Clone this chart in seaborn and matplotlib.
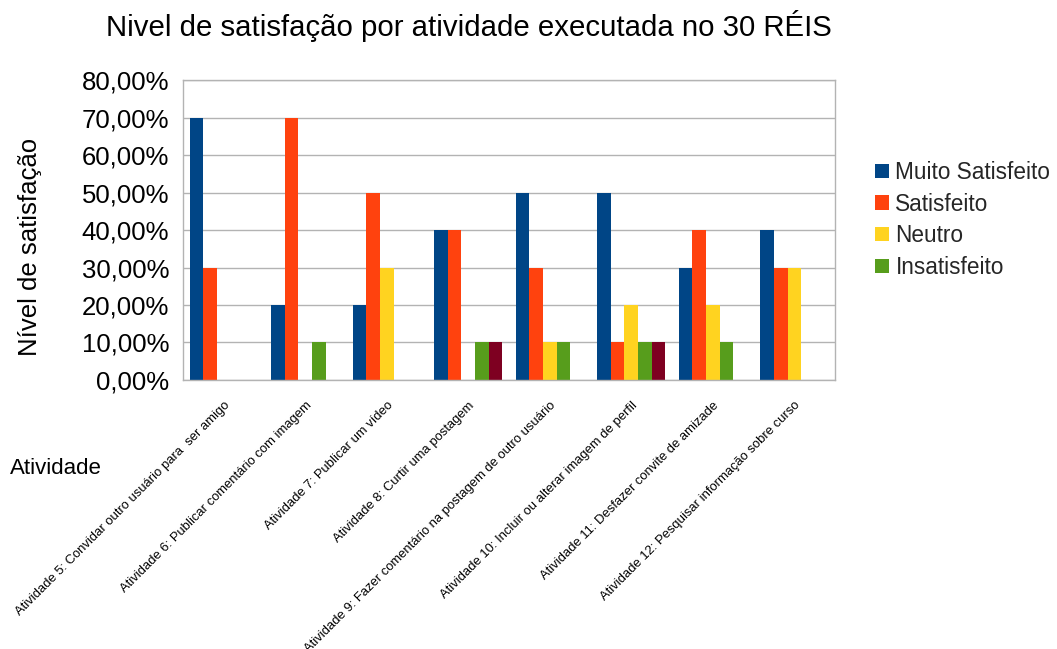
import numpy as np
import pandas as pd
import matplotlib
matplotlib.use("Agg")
import matplotlib.pyplot as plt
from matplotlib.patches import Patch
from matplotlib.ticker import FuncFormatter
import seaborn as sns

atividades = [
    "Atividade 5: Convidar outro usuário para  ser amigo",
    "Atividade 6: Publicar comentário com imagem",
    "Atividade 7: Publicar um vídeo",
    "Atividade 8: Curtir uma postagem",
    "Atividade 9: Fazer comentário na postagem de outro usuário",
    "Atividade 10: Incluir ou alterar imagem de perfil",
    "Atividade 11: Desfazer convite de amizade",
    "Atividade 12: Pesquisar informação sobre curso",
]
muito_satisfeito = [0.70, 0.20, 0.20, 0.40, 0.50, 0.50, 0.30, 0.40]
satisfeito = [0.30, 0.70, 0.50, 0.40, 0.30, 0.10, 0.40, 0.30]
neutro = [0.00, 0.00, 0.30, 0.00, 0.10, 0.20, 0.20, 0.30]
insatisfeito = [0.00, 0.10, 0.00, 0.10, 0.10, 0.10, 0.10, 0.00]
muito_insatisfeito = [0.00, 0.00, 0.00, 0.10, 0.00, 0.10, 0.00, 0.00]

series_names = ["Muito Satisfeito", "Satisfeito", "Neutro", "Insatisfeito", "Muito Insatisfeito"]
series_values = [muito_satisfeito, satisfeito, neutro, insatisfeito, muito_insatisfeito]
colors = ["#004586", "#ff420e", "#ffd320", "#579d1c", "#7e0021"]

rows = []
for name, vals in zip(series_names, series_values):
    for cat, v in zip(atividades, vals):
        rows.append({"Atividade": cat, "Série": name, "Valor": v})
df = pd.DataFrame(rows)

sns.set_theme(style="white")
plt.rcParams["font.family"] = ["Liberation Sans", "DejaVu Sans"]

fig = plt.figure(figsize=(10.57, 6.49), dpi=100)
ax = fig.add_axes([0.1731, 0.4145, 0.6169, 0.4622])

sns.barplot(data=df, x="Atividade", y="Valor", hue="Série", order=atividades,
            hue_order=series_names, palette=colors, width=0.83,
            linewidth=0, edgecolor="none", saturation=1, legend=False, ax=ax)

ax.set_xlim(-0.5, len(atividades) - 0.5)
ax.set_ylim(0, 0.8)
ax.set_yticks(np.arange(0, 0.81, 0.1))
ax.yaxis.set_major_formatter(FuncFormatter(lambda v, p: f"{v*100:.2f}%".replace(".", ",")))
ax.yaxis.grid(True, color="#b3b3b3", linewidth=1)
ax.set_axisbelow(True)
for sp in ax.spines.values():
    sp.set_color("#b3b3b3")
    sp.set_linewidth(1)

ax.set_xticks(np.arange(-0.5, len(atividades)), minor=True)
ax.tick_params(axis="x", which="minor", length=8, color="#b3b3b3", width=1)
ax.tick_params(axis="x", which="major", length=0, pad=14)
ax.tick_params(axis="y", which="major", length=4, color="#b3b3b3", width=1,
               labelsize=18.5, pad=6, labelcolor="#000000")
ax.set_xticks(range(len(atividades)))
ax.set_xticklabels(atividades, rotation=45, ha="right", va="top",
                   rotation_mode="anchor", fontsize=9.4, color="#000000")
ax.set_xlabel("")
ax.set_ylabel("")

fig.text(30 / 1057, 1 - 247 / 649, "Nível de satisfação", fontsize=18.5, color="#000000",
         rotation=90, ha="center", va="center")
fig.text(0.0095, 0.278, "Atividade", fontsize=16, color="#000000", va="center", ha="left")
fig.suptitle("Nivel de satisfação por atividade executada no 30 RÉIS",
             x=469 / 1057, y=0.985, fontsize=21.2, color="#000000")

handles = [Patch(facecolor=c, edgecolor="none") for c in colors[:4]]
fig.legend(handles, series_names[:4], loc="upper left", bbox_to_anchor=(875 / 1057, 0.752),
           frameon=False, fontsize=16.3, handlelength=0.6, handleheight=0.6,
           handletextpad=0.3, labelspacing=0.38, borderaxespad=0, borderpad=0)

fig.savefig("out.png", dpi=100)
